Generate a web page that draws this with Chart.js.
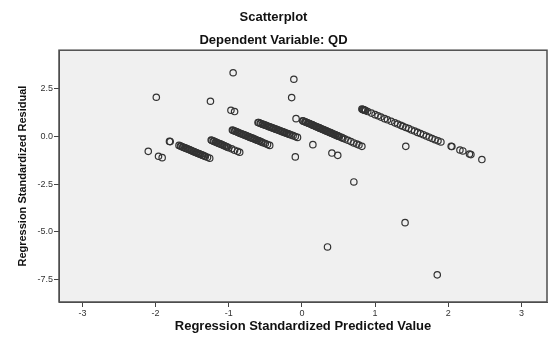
<!DOCTYPE html>
<html>
<head>
<meta charset="utf-8">
<script src="https://cdn.jsdelivr.net/npm/chart.js@4.4.1/dist/chart.umd.min.js"></script>
<style>
  html, body { margin: 0; padding: 0; background: #ffffff; }
  #wrap { width: 554px; height: 343px; }
</style>
</head>
<body>
<div id="wrap"><canvas id="residualChart"></canvas></div>
<script>
// Regression standardized predicted value (x) and standardized residual (y)
const predicted = [
  // isolated points, upper part
  -0.94, -0.11, -1.99, -1.25, -0.14, -0.97, -0.92,
  // left outliers
  -1.81, -1.80, -2.10, -1.96, -1.91,
  // band 1
  -1.68, -1.66, -1.65, -1.63, -1.62, -1.60, -1.59, -1.57, -1.56, -1.54, -1.53, -1.51, -1.50, -1.48, -1.47, -1.45,
  -1.44, -1.42, -1.41, -1.39, -1.38, -1.36, -1.35, -1.33, -1.32, -1.29, -1.26,
  // band 2
  -1.24, -1.23, -1.21, -1.20, -1.18, -1.17, -1.15, -1.14, -1.12, -1.11, -1.09, -1.08, -1.06, -1.05, -1.03, -1.02,
  -1.00, -0.96, -0.92, -0.88, -0.85,
  // band 3
  -0.95, -0.94, -0.92, -0.91, -0.89, -0.88, -0.86, -0.85, -0.83, -0.82, -0.80, -0.79, -0.77, -0.76, -0.74, -0.73,
  -0.71, -0.70, -0.68, -0.67, -0.65, -0.64, -0.62, -0.61, -0.59, -0.58, -0.56, -0.55, -0.53, -0.50, -0.47, -0.44,
  // band 4
  -0.60, -0.59, -0.57, -0.56, -0.54, -0.53, -0.51, -0.50, -0.48, -0.47, -0.45, -0.44, -0.42, -0.41, -0.39, -0.38,
  -0.36, -0.35, -0.33, -0.32, -0.30, -0.29, -0.27, -0.26, -0.24, -0.23, -0.21, -0.20, -0.18, -0.17, -0.15, -0.12,
  -0.09, -0.06,
  // band 5
  -0.08, 0.01, 0.02, 0.04, 0.05, 0.06, 0.08, 0.09, 0.10, 0.11, 0.13, 0.14, 0.15, 0.16, 0.18, 0.19, 0.20, 0.21, 0.23,
  0.24, 0.25, 0.26, 0.28, 0.29, 0.30, 0.31, 0.33, 0.34, 0.35, 0.36, 0.38, 0.39, 0.40, 0.41, 0.43, 0.44, 0.45, 0.46,
  0.48, 0.49, 0.50, 0.51, 0.54, 0.56, 0.59, 0.63, 0.67, 0.71, 0.75, 0.78, 0.82,
  // band 6
  0.82, 0.83, 0.84, 0.85, 0.86, 0.87, 0.90, 0.95, 1.00, 1.04, 1.08, 1.13, 1.17, 1.22, 1.27, 1.31, 1.35, 1.38, 1.42,
  1.46, 1.50, 1.54, 1.58, 1.62, 1.66, 1.70, 1.74, 1.78, 1.82, 1.86, 1.90, 2.04, 2.05, 2.16, 2.20, 2.29, 2.31, 2.46,
  // scattered lower points
  -0.09, 0.15, 0.41, 0.49, 1.42, 0.71, 1.41, 0.35, 1.85
];

const residual = [
  3.32, 2.98, 2.04, 1.83, 2.02, 1.36, 1.29,
  -0.27, -0.28, -0.79, -1.05, -1.12,
  -0.48, -0.51, -0.53, -0.56, -0.58, -0.61, -0.62, -0.66, -0.67, -0.70, -0.72, -0.75, -0.77, -0.80, -0.82, -0.85,
  -0.86, -0.90, -0.91, -0.94, -0.96, -0.99, -1.01, -1.04, -1.06, -1.10, -1.15,
  -0.20, -0.22, -0.25, -0.27, -0.30, -0.32, -0.35, -0.37, -0.40, -0.41, -0.45, -0.46, -0.50, -0.51, -0.55, -0.56,
  -0.60, -0.66, -0.73, -0.79, -0.84,
  0.32, 0.30, 0.27, 0.26, 0.23, 0.21, 0.18, 0.16, 0.13, 0.12, 0.09, 0.07, 0.04, 0.03, -0.01, -0.02,
  -0.06, -0.07, -0.10, -0.11, -0.15, -0.16, -0.20, -0.21, -0.24, -0.25, -0.29, -0.30, -0.34, -0.38, -0.43, -0.48,
  0.72, 0.71, 0.68, 0.66, 0.63, 0.62, 0.59, 0.58, 0.55, 0.53, 0.50, 0.49, 0.46, 0.45, 0.42, 0.40,
  0.37, 0.36, 0.33, 0.32, 0.29, 0.27, 0.24, 0.23, 0.20, 0.18, 0.16, 0.14, 0.11, 0.10, 0.07, 0.03,
  -0.02, -0.06,
  0.92, 0.81, 0.79, 0.76, 0.74, 0.73, 0.69, 0.68, 0.66, 0.65, 0.61, 0.60, 0.58, 0.56, 0.53, 0.51, 0.50, 0.48, 0.45,
  0.43, 0.41, 0.40, 0.36, 0.35, 0.33, 0.32, 0.28, 0.27, 0.25, 0.23, 0.20, 0.18, 0.17, 0.15, 0.12, 0.10, 0.08, 0.07,
  0.03, 0.02, 0.00, -0.02, -0.06, -0.10, -0.15, -0.21, -0.28, -0.35, -0.41, -0.46, -0.53,
  1.42, 1.40, 1.39, 1.37, 1.36, 1.34, 1.29, 1.21, 1.13, 1.07, 1.00, 0.92, 0.86, 0.78, 0.70, 0.64, 0.57, 0.52, 0.46,
  0.40, 0.33, 0.27, 0.20, 0.14, 0.08, 0.01, -0.05, -0.12, -0.18, -0.24, -0.30, -0.53, -0.54, -0.72, -0.77, -0.93, -0.96, -1.22,
  -1.08, -0.44, -0.88, -1.00, -0.53, -2.39, -4.52, -5.79, -7.25
];

const xTicks = [-3, -2, -1, 0, 1, 2, 3];
const yTicks = [2.5, 0, -2.5, -5, -7.5];

const points = predicted.map((x, i) => ({ x: x, y: residual[i] }));

// gray plot background with a dark frame, like SPSS
const plotFrame = {
  id: "plotFrame",
  beforeDraw(chart) {
    const { ctx, chartArea } = chart;
    ctx.save();
    ctx.fillStyle = "#f0f0f0";
    ctx.fillRect(chartArea.left, chartArea.top, chartArea.width, chartArea.height);
    ctx.restore();
  },
  afterDraw(chart) {
    const { ctx, chartArea } = chart;
    ctx.save();
    ctx.strokeStyle = "#4e4e4e";
    ctx.lineWidth = 1.5;
    ctx.strokeRect(chartArea.left, chartArea.top, chartArea.width, chartArea.height);
    ctx.restore();
  }
};

const fontFamily = "'Liberation Sans', Arial, sans-serif";
const labelFont = { family: fontFamily, size: 9 };

new Chart(document.getElementById("residualChart").getContext("2d"), {
  type: "scatter",
  data: {
    datasets: [
      {
        data: points,
        pointRadius: 3.2,
        pointBorderWidth: 1.2,
        pointBorderColor: "#333333",
        pointBackgroundColor: "rgba(0,0,0,0)",
        pointHoverRadius: 3.2
      }
    ]
  },
  options: {
    responsive: true,
    maintainAspectRatio: false,
    animation: false,
    layout: { padding: { left: 0, right: 7, top: 0, bottom: 0 } },
    plugins: {
      legend: { display: false },
      tooltip: { enabled: false },
      title: {
        display: true,
        text: "Scatterplot",
        color: "#111",
        font: { family: fontFamily, size: 13, weight: "bold" },
        padding: { top: 10, bottom: 7 }
      },
      subtitle: {
        display: true,
        text: "Dependent Variable: QD",
        color: "#111",
        font: { family: fontFamily, size: 13, weight: "bold" },
        padding: { top: 0, bottom: 2 }
      }
    },
    scales: {
      x: {
        type: "linear",
        min: -3.32,
        max: 3.35,
        afterBuildTicks: (scale) => { scale.ticks = xTicks.map((v) => ({ value: v })); },
        afterFit: (scale) => { scale.height = 41; },
        grid: { drawOnChartArea: false, drawTicks: true, tickLength: 5, color: "#444" },
        border: { display: true, color: "#4e4e4e" },
        ticks: { color: "#333", font: labelFont, padding: 1, callback: (v) => String(v) },
        title: {
          display: true,
          text: "Regression Standardized Predicted Value",
          color: "#111",
          font: { family: fontFamily, size: 13, weight: "bold" },
          padding: { top: 0, bottom: 9 }
        }
      },
      y: {
        type: "linear",
        min: -8.67,
        max: 4.5,
        afterBuildTicks: (scale) => { scale.ticks = yTicks.map((v) => ({ value: v })); },
        afterFit: (scale) => { scale.width = 59; },
        grid: { drawOnChartArea: false, drawTicks: true, tickLength: 5, color: "#444" },
        border: { display: true, color: "#4e4e4e" },
        ticks: { color: "#333", font: labelFont, padding: 1, callback: (v) => Number(v).toFixed(1) },
        title: {
          display: true,
          text: "Regression Standardized Residual",
          color: "#111",
          font: { family: fontFamily, size: 11, weight: "bold" },
          padding: { top: 16, bottom: 0 }
        }
      }
    }
  },
  plugins: [plotFrame]
});
</script>
</body>
</html>
